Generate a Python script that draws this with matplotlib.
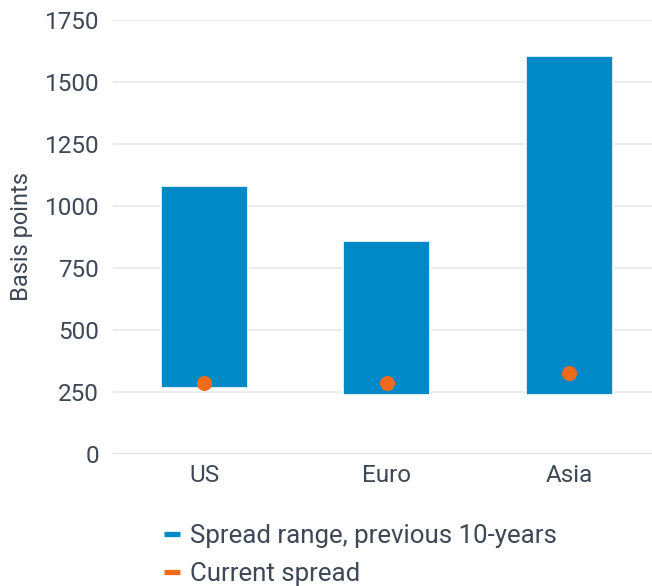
import matplotlib.pyplot as plt
from matplotlib.lines import Line2D

plt.rcParams['font.family'] = ['Roboto', 'DejaVu Sans']

# data
regions = ["US", "Euro", "Asia"]
range_low = [266, 239, 238]
range_high = [1080, 858, 1604]
current_spread = [286, 285, 325]
y_ticks = [0, 250, 500, 750, 1000, 1250, 1500, 1750]

blue = "#0089c7"
orange = "#ee6b1c"
text_col = "#3d4756"

fig = plt.figure(figsize=(6.52, 5.86), dpi=100)
ax = fig.add_axes([113/652, 1 - 454/586, 1 - 113/652, (454 - 20)/586])

x = list(range(len(regions)))
heights = [h - l for h, l in zip(range_high, range_low)]
ax.bar(x, heights, bottom=range_low, width=0.475, color=blue,
       edgecolor="white", linewidth=1.2, zorder=3)
ax.plot(x, current_spread, "o", color=orange, markersize=10.8,
        markeredgewidth=0, zorder=4)

ax.set_xlim(-0.5, 2.453)
ax.set_ylim(0, 1750)
ax.set_yticks(y_ticks)
ax.set_xticks(x)
ax.set_xticklabels(regions)

ax.grid(axis="y", color="#e9e9e9", linewidth=1.2, zorder=0)
ax.axhline(0, color="#e2e2e2", linewidth=2.4, zorder=2)
for s in ax.spines.values():
    s.set_visible(False)
ax.tick_params(axis="both", length=0, labelsize=17.5, labelcolor=text_col)
ax.tick_params(axis="x", pad=7)
ax.tick_params(axis="y", pad=10)
ax.set_ylabel("Basis points", fontsize=17, color=text_col, labelpad=8)

handles = [Line2D([], [], color=blue, linewidth=3.8, solid_capstyle="butt"),
           Line2D([], [], color=orange, linewidth=3.8, solid_capstyle="butt")]
fig.legend(handles, ["Spread range, previous 10-years", "Current spread"],
           loc="upper left", bbox_to_anchor=(164/652, 1 - 524/586),
           frameon=False, fontsize=18.6, labelcolor=text_col,
           handlelength=0.62, handletextpad=0.4, labelspacing=0.55,
           borderpad=0, borderaxespad=0)

fig.savefig("out.png", dpi=100)
